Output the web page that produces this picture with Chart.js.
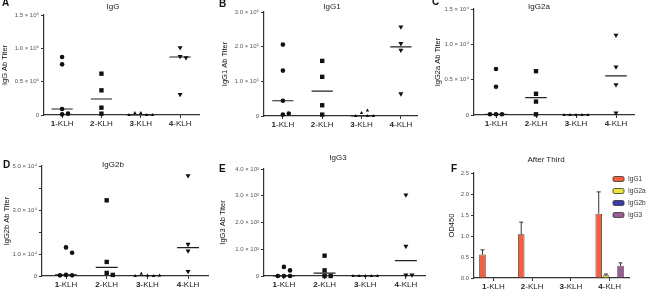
<!DOCTYPE html>
<html>
<head>
<meta charset="utf-8">
<script src="https://cdn.jsdelivr.net/npm/chart.js@4.4.0/dist/chart.umd.min.js"></script>
<style>
  body { margin: 0; width: 650px; height: 290px; position: relative; overflow: hidden; background: #fff;
         font-family: "Liberation Sans", Arial, sans-serif; }
  canvas { position: absolute; }
  .letter { position: absolute; font-size: 10px; font-weight: bold; line-height: 1; color: #111; }
  .title { position: absolute; font-size: 8px; line-height: 1; color: #222; white-space: nowrap; transform: translateX(-50%); }
</style>
</head>
<body>
<script>
const FONT = '"Liberation Sans", Arial, sans-serif';

const groups = ["1-KLH", "2-KLH", "3-KLH", "4-KLH"];

// titers per group, in units of the axis multiplier
const iggTiter = [[0.87, 0.76, 0.09, 0.01, 0.02], [0.62, 0.37, 0.11, 0.02], [0.03, 0, 0.03, 0, 0], [1.01, 0.88, 0.86, 0.31]];
const igg1Titer = [[2.06, 1.31, 0.44, 0.04, 0.07], [1.59, 1.13, 0.31, 0.04], [0.09, 0, 0.16, 0, 0], [2.57, 2.09, 1.9, 0.64]];
const igg2aTiter = [[0.65, 0.4, 0.01, 0.01, 0.01], [0.62, 0.3, 0.19, 0.01], [0, 0, 0, 0, 0], [1.13, 0.68, 0.43, 0.03]];
const igg2bTiter = [[1.3, 1.06, 0.05, 0.03, 0.03], [3.44, 0.64, 0.14, 0.05], [0.02, 0, 0.1, 0.02, 0], [4.56, 1.44, 1.14, 0.21]];
const igg3Titer = [[0.34, 0.21, 0, 0, 0], [0.76, 0.21, 0, 0], [0, 0, 0, 0, 0], [3.03, 1.11, 0.04, 0.04]];

const iggTicks = ["0", "0.5 × 10⁵", "1.0 × 10⁵", "1.5 × 10⁵"];
const igg1Ticks = ["0", "1.0 × 10⁵", "2.0 × 10⁵", "3.0 × 10⁵"];
const igg2aTicks = ["0", "0.5 × 10⁴", "1.0 × 10⁴", "1.5 × 10⁴"];
const igg2bTicks = ["0", "1.0 × 10⁴", "", "3.0 × 10⁴", "", "5.0 × 10⁴"];
const igg3Ticks = ["0", "1.0 × 10³", "2.0 × 10³", "3.0 × 10³", "4.0 × 10³"];

// panel F, OD450 after third immunization
const isotypes = ["IgG1", "IgG2a", "IgG2b", "IgG3"];
const isoColors = ["#f3603f", "#ebe23a", "#3b3ca6", "#9a5c92"];
const odMean = [[0.56, 1.04, 0, 1.53], [0, 0, 0, 0.065], [0, 0, 0, 0.01], [0, 0.015, 0, 0.29]];
const odErr = [[0.11, 0.29, 0, 0.52], [0, 0, 0, 0.03], [0, 0, 0, 0], [0, 0, 0, 0.07]];
const odTicks = ["0.0", "0.5", "1.0", "1.5", "2.0", "2.5"];

const panels = [
  { letter: "A", title: "IgG", yTitle: "IgG Ab Titer", data: iggTiter, ticks: iggTicks, step: 0.5,
    box: [0, 0, 215, 145], area: [44, 15, 199, 115], xr: [0.54, 4.48], tPos: [113, 3], lPos: [2, -2], yOff: 5 },
  { letter: "B", title: "IgG1", yTitle: "IgG1 Ab Titer", data: igg1Titer, ticks: igg1Ticks, step: 1,
    box: [215, 0, 215, 145], area: [264, 12, 417, 116], xr: [0.52, 4.41], tPos: [332, 3], lPos: [219, -1], yOff: 10 },
  { letter: "C", title: "IgG2a", yTitle: "IgG2a Ab Titer", data: igg2aTiter, ticks: igg2aTicks, step: 0.5,
    box: [430, 0, 220, 145], area: [474, 9, 634, 115], xr: [0.45, 4.45], tPos: [539, 3], lPos: [432, -3], yOff: 8 },
  { letter: "D", title: "IgG2b", yTitle: "IgG2b Ab Titer", data: igg2bTiter, ticks: igg2bTicks, step: 1,
    box: [0, 145, 215, 145], area: [42, 166, 208, 276], xr: [0.41, 4.49], tPos: [113, 161], lPos: [3, 160], yOff: 7 },
  { letter: "E", title: "IgG3", yTitle: "IgG3 Ab Titer", data: igg3Titer, ticks: igg3Ticks, step: 1,
    box: [215, 145, 215, 145], area: [264, 169, 425, 276], xr: [0.51, 4.47], tPos: [338, 154], lPos: [219, 164], yOff: 8 }
];

const marks = ["circle", "rect", "triangle", "triangle"];
const markSize = [2.3, 3.1, 2, 2.9];

function median(vals) {
  const s = vals.slice().sort((a, b) => a - b);
  const m = Math.floor(s.length / 2);
  return s.length % 2 ? s[m] : (s[m - 1] + s[m]) / 2;
}

// spread points sideways when they would sit on top of each other
function jitter(vals, center, yMax) {
  const thr = yMax * 0.05, d = 0.15, offs = [0, 1, -1, 2, -2, 3, -3];
  const placed = [];
  return vals.map((v) => {
    for (const o of offs) {
      const x = center + o * d;
      if (!placed.some((p) => Math.abs(p.x - x) < d * 0.9 && Math.abs(p.y - v) < thr)) {
        placed.push({ x, y: v });
        return { x, y: v };
      }
    }
    return { x: center, y: v };
  });
}

function addText(cls, text, x, y) {
  const el = document.createElement("div");
  el.className = cls;
  el.textContent = text;
  el.style.left = x + "px";
  el.style.top = y + "px";
  document.body.appendChild(el);
}

function makeCanvas(box) {
  const c = document.createElement("canvas");
  c.width = box[2];
  c.height = box[3];
  c.style.left = box[0] + "px";
  c.style.top = box[1] + "px";
  document.body.appendChild(c);
  return c;
}

// "1-KLH" with the number in bold
const groupLabels = {
  id: "groupLabels",
  afterDraw(chart) {
    const xs = chart.scales.x, ctx = chart.ctx;
    ctx.save();
    ctx.fillStyle = "#222";
    ctx.textBaseline = "middle";
    ctx.textAlign = "left";
    groups.forEach((g, i) => {
      const num = g.split("-")[0], rest = "-" + g.split("-")[1];
      ctx.font = "bold 8px " + FONT;
      const w1 = ctx.measureText(num).width;
      ctx.font = "8px " + FONT;
      const w2 = ctx.measureText(rest).width;
      const px = xs.getPixelForTick(i) - (w1 + w2) / 2;
      const py = xs.top + 9;
      ctx.font = "bold 8px " + FONT;
      ctx.fillText(num, px, py);
      ctx.font = "8px " + FONT;
      ctx.fillText(rest, px + w1, py);
    });
    ctx.restore();
  }
};

const axisGrid = { drawOnChartArea: false, tickLength: 3, color: "#333", lineWidth: 1 };
const axisBorder = { color: "#333", width: 1.2 };

function yAxis(p, L, x0, yMax) {
  return {
    min: 0, max: yMax,
    afterBuildTicks: (s) => { s.ticks = p.ticks.map((_, i) => ({ value: i * p.step })); },
    afterFit: (s) => { s.width = x0 - L; },
    ticks: { callback: (v, i) => p.ticks[i], font: { size: 6, family: FONT }, color: "#555", padding: 2 },
    grid: axisGrid, border: axisBorder,
    title: { display: true, text: p.yTitle, font: { size: 7.5, family: FONT }, color: "#111",
             padding: { top: p.yOff - 4.5, bottom: 0 } }
  };
}

panels.forEach((p) => {
  const [L, T, W, H] = p.box;
  const [x0, y0, x1, y1] = p.area;
  const yMax = p.step * (p.ticks.length - 1);
  const datasets = p.data.map((vals, g) => ({
    data: jitter(vals, g + 1, yMax),
    pointStyle: marks[g], pointRadius: markSize[g], pointRotation: g === 3 ? 180 : 0,
    pointBackgroundColor: "#111", pointBorderColor: "#111", pointBorderWidth: 0, clip: false
  }));
  const med = [];
  p.data.forEach((vals, g) => {
    const m = median(vals);
    med.push({ x: g + 1 - 0.27, y: m }, { x: g + 1 + 0.27, y: m }, { x: g + 1.5, y: null });
  });
  datasets.push({ type: "line", data: med, pointRadius: 0, borderColor: "#222", borderWidth: 1.2, spanGaps: false, clip: false });

  new Chart(makeCanvas(p.box), {
    type: "scatter",
    data: { datasets },
    options: {
      responsive: false, animation: false, events: [],
      layout: { padding: { left: 0, top: y0 - T, right: L + W - x1, bottom: 0 } },
      plugins: { legend: { display: false }, tooltip: { enabled: false } },
      scales: {
        x: {
          type: "linear", min: p.xr[0], max: p.xr[1],
          afterBuildTicks: (s) => { s.ticks = [1, 2, 3, 4].map((v) => ({ value: v })); },
          afterFit: (s) => { s.height = T + H - y1; },
          ticks: { display: false },
          grid: axisGrid, border: axisBorder
        },
        y: yAxis(p, L, x0, yMax)
      }
    },
    plugins: [groupLabels]
  });
  addText("letter", p.letter, p.lPos[0], p.lPos[1]);
  addText("title", p.title, p.tPos[0], p.tPos[1]);
});

// panel F
const errorBars = {
  id: "errorBars",
  afterDatasetsDraw(chart) {
    const ctx = chart.ctx, ys = chart.scales.y;
    ctx.save();
    ctx.strokeStyle = "#333";
    ctx.lineWidth = 1;
    chart.data.datasets.forEach((ds, i) => {
      chart.getDatasetMeta(i).data.forEach((bar, j) => {
        const e = ds.err[j];
        if (!e) return;
        const top = ys.getPixelForValue(ds.data[j] + e);
        ctx.beginPath();
        ctx.moveTo(bar.x, bar.y);
        ctx.lineTo(bar.x, top);
        ctx.moveTo(bar.x - 2, top);
        ctx.lineTo(bar.x + 2, top);
        ctx.stroke();
      });
    });
    ctx.restore();
  }
};

const isoLegend = {
  id: "isoLegend",
  afterDraw(chart) {
    const ctx = chart.ctx, a = chart.chartArea;
    ctx.save();
    ctx.font = "6.5px " + FONT;
    ctx.textBaseline = "middle";
    chart.data.datasets.forEach((ds, i) => {
      const bx = a.right - 16, by = a.top + 6 + i * 12;
      ctx.beginPath();
      ctx.roundRect(bx, by - 2.5, 11, 5, 1.5);
      ctx.fillStyle = ds.backgroundColor;
      ctx.fill();
      ctx.strokeStyle = "#333";
      ctx.lineWidth = 0.8;
      ctx.stroke();
      ctx.fillStyle = "#333";
      ctx.fillText(ds.label, bx + 15, by);
    });
    ctx.restore();
  }
};

(function () {
  const box = [430, 145, 220, 145];
  const [x0, y0, x1, y1] = [474, 173, 629, 278];
  new Chart(makeCanvas(box), {
    type: "bar",
    data: {
      labels: groups,
      datasets: isotypes.map((n, k) => ({
        label: n, data: odMean[k], err: odErr[k],
        backgroundColor: isoColors[k], borderColor: "#333", borderWidth: 0.8,
        categoryPercentage: 0.75, barPercentage: 0.9
      }))
    },
    options: {
      responsive: false, animation: false, events: [],
      layout: { padding: { left: 0, top: y0 - box[1], right: box[0] + box[2] - x1, bottom: 0 } },
      plugins: { legend: { display: false }, tooltip: { enabled: false } },
      scales: {
        x: {
          afterFit: (s) => { s.height = box[1] + box[3] - y1; },
          ticks: { display: false },
          grid: Object.assign({ offset: false }, axisGrid), border: axisBorder
        },
        y: {
          min: 0, max: 2.5,
          afterBuildTicks: (s) => { s.ticks = odTicks.map((t) => ({ value: parseFloat(t) })); },
          afterFit: (s) => { s.width = x0 - box[0]; },
          ticks: { callback: (v, i) => odTicks[i], font: { size: 6, family: FONT }, color: "#555", padding: 2 },
          grid: axisGrid, border: axisBorder,
          title: { display: true, text: "OD450", font: { size: 7.5, family: FONT }, color: "#111",
                   padding: { top: 22 - 4.5, bottom: 0 } }
        }
      }
    },
    plugins: [errorBars, isoLegend, groupLabels]
  });
  addText("letter", "F", 451, 164);
  addText("title", "After Third", 546, 156);
})();
</script>
</body>
</html>
